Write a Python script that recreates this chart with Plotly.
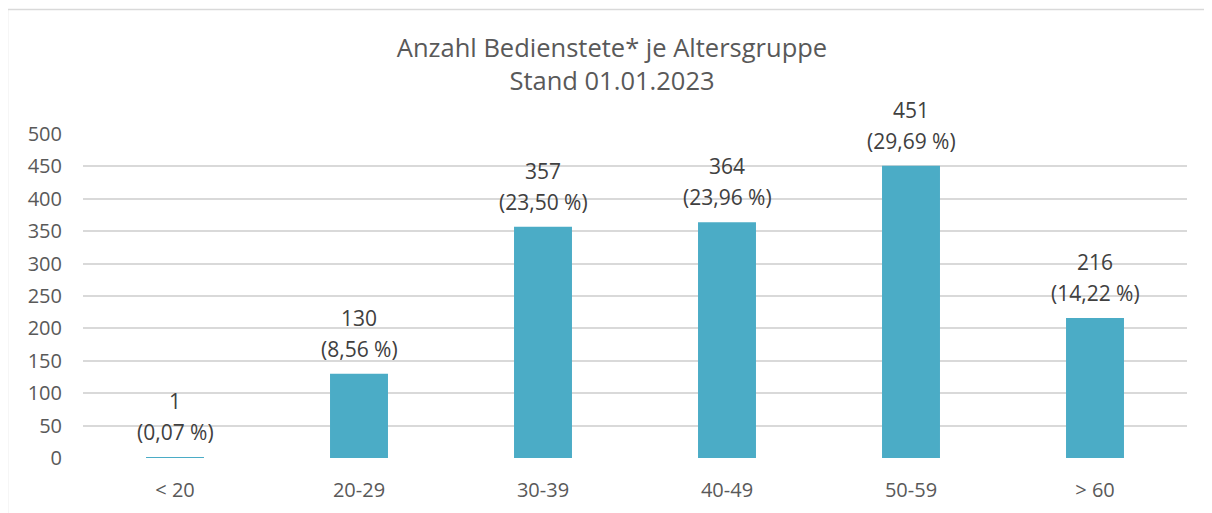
import plotly.graph_objects as go

categories = ["< 20", "20-29", "30-39", "40-49", "50-59", "> 60"]
counts = [1, 130, 357, 364, 451, 216]
percents = ["0,07 %", "8,56 %", "23,50 %", "23,96 %", "29,69 %", "14,22 %"]
y_ticks = [0, 50, 100, 150, 200, 250, 300, 350, 400, 450, 500]

OFF = 8  # page body margin
W, H = 1212, 513
L, R, T = 83 - OFF, 25 + OFF, 134 - OFF
B = H - (458 - OFF)
pw, ph = W - L - R, H - T - B

def px_x(x):
    return (x - OFF - L) / pw

def px_y(y):
    return (H - B - (y - OFF)) / ph

fig = go.Figure(go.Bar(
    x=categories, y=counts,
    marker=dict(color="#4BACC6", line=dict(width=0)),
    width=0.315,
    cliponaxis=False,
))

lab_font = dict(family="Open Sans", size=21, color="#404040")
annotations = []
for c, n, p in zip(categories, counts, percents):
    annotations.append(dict(x=c, y=n, text=f"({p})", showarrow=False, yshift=25,
                            xanchor="center", yanchor="middle", font=lab_font))
    annotations.append(dict(x=c, y=n, text=str(n), showarrow=False, yshift=56,
                            xanchor="center", yanchor="middle", font=lab_font))

border = "#D9D9D9"
fig.update_layout(
    width=W, height=H,
    margin=dict(l=L, r=R, t=T, b=B),
    plot_bgcolor="white", paper_bgcolor="white",
    showlegend=False,
    font=dict(family="Open Sans", color="#595959"),
    title=dict(text="Anzahl Bedienstete* je Altersgruppe<br>Stand 01.01.2023",
               x=px_x(612), xanchor="center", xref="paper", y=1 - 49 / H, yanchor="middle",
               font=dict(family="Open Sans", size=25.5, color="#595959")),
    xaxis=dict(showgrid=False, showline=False, ticks="", ticklabelstandoff=18,
               tickfont=dict(size=20, color="#595959")),
    yaxis=dict(range=[0, 500], tickvals=y_ticks, showgrid=True, gridcolor=border, gridwidth=1.5,
               zeroline=False, showline=False, ticks="", ticklabelstandoff=20,
               tickfont=dict(size=20, color="#595959")),
    annotations=annotations,
    shapes=[
        dict(type="line", xref="paper", yref="paper", x0=px_x(7.5), x1=px_x(7.5),
             y0=px_y(9.5), y1=px_y(530), line=dict(color=border, width=1.5)),
        dict(type="line", xref="paper", yref="paper", x0=px_x(7.5), x1=px_x(1230),
             y0=px_y(9.5), y1=px_y(9.5), line=dict(color=border, width=1.5)),
    ],
)
fig.write_html("out.html")
